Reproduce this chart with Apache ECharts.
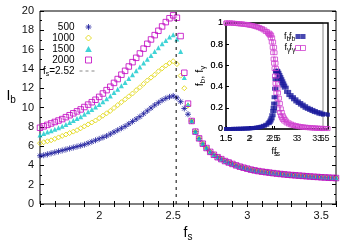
<!DOCTYPE html>
<html><head><meta charset="utf-8">
<script src="https://cdn.jsdelivr.net/npm/echarts@6/dist/echarts.min.js"></script>
<style>html,body{margin:0;padding:0;background:#fff}#c{width:350px;height:250px}</style>
</head><body><div id="c"></div>
<script>
// ---- main panel data: I_b vs f_s ----
const fsMain = [1.6,1.625,1.65,1.675,1.7,1.725,1.75,1.775,1.8,1.825,1.85,1.875,1.9,1.925,1.95,1.975,2.0,2.025,2.05,2.075,2.1,2.125,2.15,2.175,2.2,2.225,2.25,2.275,2.3,2.325,2.35,2.375,2.4,2.425,2.45,2.475,2.5,2.525,2.55,2.575,2.6,
  2.625,2.65,2.675,2.7,2.725,2.75,2.775,2.8,2.825,2.85,2.875,2.9,2.925,2.95,2.975,3.0,3.025,3.05,3.075,3.1,3.125,3.15,3.175,3.2,3.225,3.25,3.275,3.3,3.325,3.35,3.375,3.4,3.425,3.45,3.475,3.5,3.525,3.55,3.575,3.6];
const ib500  = [5.0,5.05,5.15,5.25,5.35,5.45,5.55,5.65,5.75,5.85,5.95,6.05,6.15,6.3,6.45,6.6,6.75,6.9,7.05,7.25,7.45,7.65,7.85,8.05,8.3,8.55,8.8,9.05,9.35,9.65,9.95,10.25,10.5,10.75,10.95,11.1,11.2,11.0,10.6,9.9,9.3];
const ib1000 = [6.3,6.4,6.5,6.6,6.75,6.9,7.05,7.2,7.35,7.5,7.65,7.85,8.05,8.25,8.45,8.65,8.9,9.15,9.4,9.65,9.95,10.25,10.55,10.85,11.15,11.45,11.8,12.1,12.45,12.8,13.1,13.4,13.75,14.05,14.35,14.6,14.8,14.5,13.3,12.0,10.2];
const ib1500 = [7.15,7.3,7.45,7.6,7.75,7.9,8.05,8.25,8.45,8.65,8.85,9.05,9.3,9.55,9.8,10.05,10.3,10.6,10.9,11.2,11.55,11.9,12.25,12.6,13.0,13.4,13.8,14.2,14.6,15.0,15.4,15.8,16.2,16.6,16.95,17.3,17.55,17.1,15.8,13.1,10.3];
const ib2000 = [7.9,8.05,8.2,8.35,8.5,8.65,8.8,9.0,9.2,9.4,9.6,9.8,10.05,10.3,10.55,10.8,11.1,11.45,11.8,12.15,12.55,12.95,13.4,13.8,14.25,14.7,15.15,15.6,16.1,16.6,17.05,17.5,17.95,18.4,18.85,19.25,19.55,19.3,17.4,13.6,10.4];
// common tail (all sizes collapse) from f_s = 2.625 to 3.6
const tailIb = [8.6,7.5,6.8,6.25,5.8,5.4,5.1,4.85,4.65,4.45,4.3,4.15,4.0,3.87,3.76,3.66,3.56,3.48,3.41,3.35,3.3,3.25,3.2,3.15,3.11,3.07,3.03,3.0,2.97,2.94,2.91,2.88,2.85,2.82,2.8,2.77,2.75,2.73,2.71,2.69];
const fsCritical = 2.52;
const sizeNames = ['500','1000','1500','2000'];

// ---- inset data: f_b, f_gamma vs f_s ----
const insetF = [1.5,1.55,1.6,1.65,1.7,1.75,1.8,1.85,1.9,1.95,2.0,2.05,2.1,2.15,2.2,2.25,2.3,2.35,2.4,2.42,2.44,2.46,2.48,2.5,2.51,2.52,2.53,2.54,2.55,2.56,2.57,2.58,2.6,2.62,2.64,2.66,2.68,2.7,2.72,2.75,2.8,2.85,2.9,2.95,3.0,3.05,3.1,3.15,3.2,3.25,3.3,3.35,3.4,3.45,3.5,3.55,3.6];
const fgVals = [1.0,1.0,1.0,0.998,0.996,0.994,0.992,0.99,0.987,0.984,0.98,0.976,0.97,0.964,0.956,0.947,0.935,0.92,0.905,0.895,0.885,0.86,0.82,0.77,0.72,0.66,0.62,0.57,0.5,0.43,0.38,0.34,0.29,0.24,0.19,0.155,0.125,0.105,0.09,0.075,0.058,0.047,0.038,0.032,0.027,0.023,0.02,0.017,0.015,0.013,0.011,0.01,0.008,0.007,0.006,0.005,0.004];
const fbVals = [0.0,0.0,0.0,0.001,0.001,0.002,0.002,0.003,0.004,0.005,0.006,0.008,0.01,0.013,0.017,0.022,0.03,0.04,0.055,0.065,0.08,0.1,0.13,0.17,0.2,0.24,0.3,0.38,0.47,0.54,0.55,0.545,0.53,0.51,0.49,0.47,0.45,0.43,0.41,0.39,0.35,0.32,0.3,0.28,0.26,0.245,0.23,0.215,0.2,0.19,0.18,0.17,0.16,0.155,0.145,0.14,0.135];

const FF = 'Liberation Sans';
const C500 = '#1a1a9c', C1000 = '#e0d400', C1500 = '#10c8cc', C2000 = '#c000c0', CFB = '#1a1a9c', CFG = '#d040d0';
const ASTER = 'path://M5,0L5,10M0,5L10,5M1.5,1.5L8.5,8.5M1.5,8.5L8.5,1.5';
const DIAM = 'path://M5,0L10,5L5,10L0,5Z';
const TRI = 'path://M5,0L10,9L0,9Z';
const SQ = 'path://M0,0L10,0L10,10L0,10Z';

function pts(rise) {
  return fsMain.map((f, i) => [f, i < rise.length ? rise[i] : tailIb[i - rise.length]]);
}
const insetPts = vals => insetF.map((f, i) => [f, vals[i]]);
const isHalf = v => Math.abs(v * 2 - Math.round(v * 2)) < 1e-6;
const richBig = {
  i: {fontSize: 14, fontFamily: FF, color: '#000'},
  s: {fontSize: 10, fontFamily: FF, color: '#000', padding: [8, 0, 0, 0]}
};
const richSmall = {
  i: {fontSize: 10, fontFamily: FF, color: '#000'},
  s: {fontSize: 7, fontFamily: FF, color: '#000', padding: [6, 0, 0, 0]},
  n: {fontSize: 10, fontFamily: FF, color: '#000'}
};
const richTiny = {
  i: {fontSize: 9, fontFamily: FF, color: '#000'},
  s: {fontSize: 7, fontFamily: FF, color: '#000', padding: [5, 0, 0, 0]}
};

const chart = echarts.init(document.getElementById('c'), null, {renderer: 'canvas'});

const tickIn = (len) => ({show: true, inside: true, length: len, lineStyle: {color: '#000', width: 1}});

const insetX = (gi, withName) => ({
  type: 'value', gridIndex: gi, min: 1.5, max: 3.6, interval: 0.5,
  axisLine: {show: false}, axisTick: tickIn(3), splitLine: {show: false},
  axisLabel: {fontSize: 9, margin: 5, color: '#111', fontFamily: FF,
    formatter: v => isHalf(v) ? String(Math.round(v * 10) / 10) : ''},
  name: withName ? '{i|f}{s|s}' : '', nameLocation: 'middle', nameGap: 17,
  nameTextStyle: {rich: richTiny}
});
const insetY = (gi, withName) => ({
  type: 'value', gridIndex: gi, min: 0, max: 1, interval: 0.2,
  axisLine: {show: false}, axisTick: tickIn(3), splitLine: {show: false},
  axisLabel: {fontSize: 9, margin: 3, color: '#111', fontFamily: FF},
  name: withName ? '{i|f}{s|b}{i|, f}{s|γ}' : '', nameLocation: 'middle', nameGap: 14, nameRotate: 90,
  nameTextStyle: {rich: {i: {fontSize: 11, fontFamily: FF, color: '#000'}, s: {fontSize: 8, fontFamily: FF, color: '#000', padding: [6, 0, 0, 0]}}}
});

const insetSeries = (xi, yi) => [
  {type: 'scatter', name: 'fb', xAxisIndex: xi, yAxisIndex: yi, symbol: 'rect', symbolSize: 4,
   itemStyle: {color: CFB}, data: insetPts(fbVals)},
  {type: 'scatter', name: 'fg', xAxisIndex: xi, yAxisIndex: yi, symbol: 'rect', symbolSize: 4,
   itemStyle: {color: 'rgba(0,0,0,0)', borderColor: CFG, borderWidth: 1}, data: insetPts(fgVals)}
];

const insetLegend = (right) => ({
  orient: 'vertical', right: right, top: 27, align: 'right', itemWidth: 5, itemHeight: 5, itemGap: 1,
  selectedMode: false,
  textStyle: {fontSize: 9, lineHeight: 8, fontFamily: FF, color: '#000', rich: richTiny},
  formatter: n => n === 'fb' ? '{i|f}{s|b}' : '{i|f}{s|γ}',
  data: [{name: 'fb', itemStyle: {color: CFB}},
         {name: 'fg', itemStyle: {color: 'rgba(0,0,0,0)', borderColor: CFG, borderWidth: 1}}]
});

chart.setOption({
  animation: false,
  backgroundColor: '#fff',
  grid: [
    {left: 40, right: 14, top: 11, bottom: 46, show: true, borderColor: '#000', borderWidth: 1, outerBoundsMode: 'none', containLabel: false},
    {left: 226, top: 23, width: 97, height: 106, show: true, backgroundColor: '#fff', borderColor: '#888', borderWidth: 1, outerBoundsMode: 'none', containLabel: false},
    {left: 226, top: 23, width: 102, height: 106, show: true, backgroundColor: 'rgba(0,0,0,0)', borderColor: '#000', borderWidth: 1.5, outerBoundsMode: 'none', containLabel: false}
  ],
  legend: [
    {orient: 'vertical', right: 247, top: 17, align: 'right', itemWidth: 18, itemHeight: 6, itemGap: 1,
     selectedMode: false,
     textStyle: {fontSize: 10, lineHeight: 10, fontFamily: FF, color: '#000', rich: richSmall},
     formatter: n => n === 'fsline' ? '{i|f}{s|s}{n|=2.52}' : n,
     data: [
       {name: '500', icon: ASTER, itemStyle: {color: C500, borderColor: C500, borderWidth: 1}},
       {name: '1000', icon: DIAM, itemStyle: {color: 'rgba(0,0,0,0)', borderColor: C1000, borderWidth: 1}},
       {name: '1500', icon: TRI, itemStyle: {color: C1500}},
       {name: '2000', icon: SQ, itemStyle: {color: 'rgba(0,0,0,0)', borderColor: C2000, borderWidth: 1}},
       {name: 'fsline', itemStyle: {color: 'rgba(0,0,0,0)', borderColor: 'rgba(0,0,0,0)', borderWidth: 0, opacity: 0},
        lineStyle: {color: '#888', type: [3, 3], width: 1}}
     ]},
    insetLegend(44),
    insetLegend(39)
  ],
  xAxis: [
    {type: 'value', gridIndex: 0, min: 1.6, max: 3.6, interval: 0.1,
     axisLine: {show: false}, axisTick: tickIn(3), splitLine: {show: false},
     axisLabel: {fontSize: 11, margin: 6, color: '#111', fontFamily: FF,
       formatter: v => isHalf(v) ? String(Math.round(v * 10) / 10) : ''},
     name: '{i|f}{s|s}', nameLocation: 'middle', nameGap: 19, nameTextStyle: {rich: richBig}},
    {type: 'value', gridIndex: 0, position: 'top', min: 1.6, max: 3.6, interval: 0.1,
     axisLine: {show: false}, axisTick: tickIn(3), axisLabel: {show: false}, splitLine: {show: false}},
    insetX(1, true),
    insetX(2, true)
  ],
  yAxis: [
    {type: 'value', gridIndex: 0, min: 0, max: 20, interval: 2,
     axisLine: {show: false}, axisTick: tickIn(4), splitLine: {show: false},
     minorTick: {show: true, splitNumber: 2, length: 2, lineStyle: {color: '#000'}},
     axisLabel: {fontSize: 11, margin: 6, color: '#111', fontFamily: FF},
     name: '{i|I}{s|b}', nameLocation: 'middle', nameRotate: 0, nameGap: 19,
     nameTextStyle: {rich: richBig, padding: [0, 0, 22, 0]}},
    {type: 'value', gridIndex: 0, position: 'right', min: 0, max: 20, interval: 2,
     axisLine: {show: false}, axisTick: tickIn(4), axisLabel: {show: false}, splitLine: {show: false},
     minorTick: {show: true, splitNumber: 2, length: 2, lineStyle: {color: '#000'}}},
    insetY(1, true),
    insetY(2, false)
  ],
  series: [
    {type: 'scatter', name: '500', xAxisIndex: 0, yAxisIndex: 0, symbol: ASTER, symbolSize: 6,
     itemStyle: {color: C500, borderColor: C500, borderWidth: 1}, data: pts(ib500)},
    {type: 'scatter', name: '1000', xAxisIndex: 0, yAxisIndex: 0, symbol: 'diamond', symbolSize: 5,
     itemStyle: {color: 'rgba(0,0,0,0)', borderColor: C1000, borderWidth: 1}, data: pts(ib1000)},
    {type: 'scatter', name: '1500', xAxisIndex: 0, yAxisIndex: 0, symbol: 'triangle', symbolSize: 5,
     itemStyle: {color: C1500}, data: pts(ib1500)},
    {type: 'scatter', name: '2000', xAxisIndex: 0, yAxisIndex: 0, symbol: 'rect', symbolSize: 5.5,
     itemStyle: {color: 'rgba(0,0,0,0)', borderColor: C2000, borderWidth: 1}, data: pts(ib2000)},
    {type: 'line', name: 'fsline', xAxisIndex: 0, yAxisIndex: 0, symbol: 'none',
     lineStyle: {color: '#000', type: [3, 4], width: 1}, data: [[fsCritical, 0], [fsCritical, 20]]},
    ...insetSeries(2, 2),
    ...insetSeries(3, 3)
  ]
});
</script>
</body></html>
